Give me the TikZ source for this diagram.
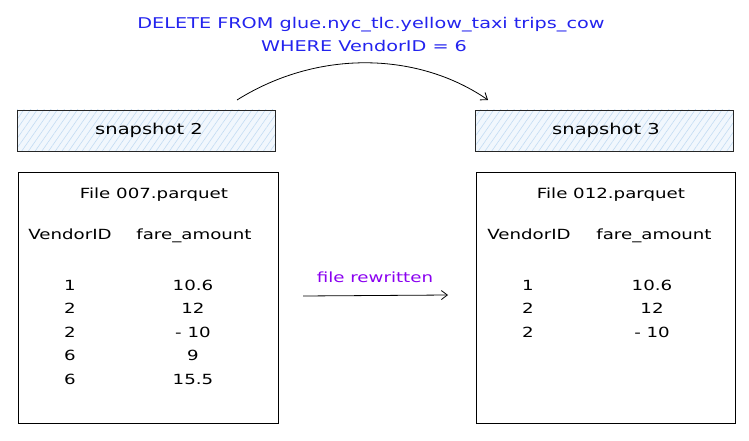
\documentclass[tikz,border=0pt]{standalone}
\usepackage{fontspec}
\setmainfont[FakeStretch=1.3]{DejaVu Sans}
\usetikzlibrary{patterns.meta,arrows.meta}
\definecolor{sqlblue}{HTML}{2323EE}
\definecolor{purp}{HTML}{8A00F0}
\definecolor{snapfill}{HTML}{F1F7FD}
\definecolor{hatch}{HTML}{C3DCF3}
\tikzset{
  x=1pt,y=-1pt,
  snapbox/.style={fill=snapfill,postaction={pattern={Lines[angle=55,distance=5.5pt,line width=0.6pt]},pattern color=hatch},postaction={draw=black!85,line width=0.9pt}},
  filebox/.style={draw=black,line width=0.9pt},
  txt/.style={font=\fontsize{14}{16}\selectfont,text=black,anchor=base,inner sep=0pt},
  sql/.style={font=\fontsize{14.8}{18}\selectfont,text=sqlblue,anchor=base,inner sep=0pt},
  conn/.style={draw=black,line width=0.8pt,-{Straight Barb[length=6pt,width=9pt]}},
}
\begin{document}
\begin{tikzpicture}
\useasboundingbox (0,0) rectangle (749,441);
% title
\node[sql] (title1) at (371,29) {DELETE FROM glue.nyc\_tlc.yellow\_taxi trips\_cow};
\node[sql] (title2) at (364,52) {WHERE VendorID = 6};
% snapshot boxes
\path[snapbox] (17,110) rectangle (275,151);
\node[txt,font=\fontsize{15}{17}\selectfont] (s2) at (149,135) {snapshot 2};
\path[snapbox] (475,110) rectangle (733,151);
\node[txt,font=\fontsize{15}{17}\selectfont] (s3) at (606,135) {snapshot 3};
\coordinate (a1) at (237,100);
\coordinate (a2) at (488,100);
\draw[conn] (a1) .. controls (320,48) and (420,53) .. (a2);
% file boxes
\path[filebox] (18,172) rectangle (278,423);
\path[filebox] (476,172) rectangle (735,423);
% left file
\node[txt] (f1) at (154,198) {File 007.parquet};
\node[txt] (h1a) at (70,239) {VendorID};
\node[txt] (h1b) at (194,239) {fare\_amount};
\foreach \y/\a/\b in {290/1/10.6,313/2/12,337/2/- 10,360/6/9,384/6/15.5}{
  \node[txt] at (70,\y) {\a};
  \node[txt] at (193,\y) {\b};
}
% right file
\node[txt] (f2) at (611,198) {File 012.parquet};
\node[txt] (h2a) at (529,239) {VendorID};
\node[txt] (h2b) at (654,239) {fare\_amount};
\foreach \y/\a/\b in {290/1/10.6,313/2/12,337/2/- 10}{
  \node[txt] at (528,\y) {\a};
  \node[txt] at (652,\y) {\b};
}
% rewrite arrow
\node[txt,text=purp] (rw) at (375,282) {file rewritten};
\coordinate (b1) at (303,296);
\coordinate (b2) at (448,295);
\draw[conn] (b1) -- (b2);
\end{tikzpicture}
\end{document}
